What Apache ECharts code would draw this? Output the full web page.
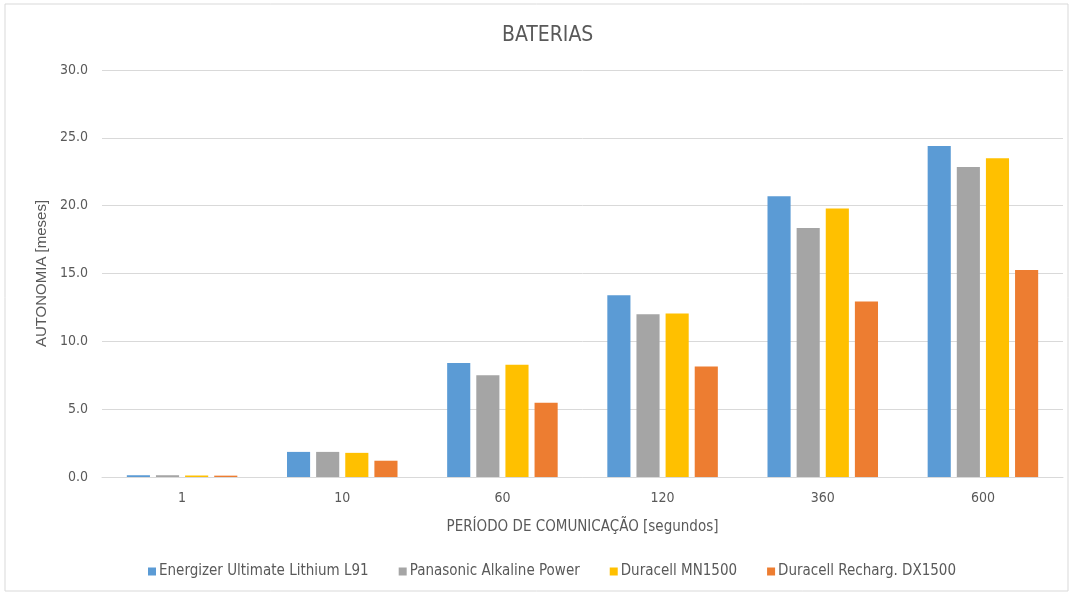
<!DOCTYPE html>
<html>
<head>
<meta charset="utf-8">
<script src="https://cdn.jsdelivr.net/npm/echarts@6/dist/echarts.min.js"></script>
<style>
  html, body { margin: 0; padding: 0; background: #fff; }
  #chart { width: 1072px; height: 594px; }
</style>
</head>
<body>
<div id="chart"></div>
<script>
// periods (seconds)
const categories = ['1', '10', '60', '120', '360', '600'];
const seriesNames = [
  'Energizer Ultimate Lithium L91',
  'Panasonic Alkaline Power',
  'Duracell MN1500',
  'Duracell Recharg. DX1500'
];
const energizer = [0.13, 1.85, 8.4, 13.4, 20.7, 24.4];
const panasonic = [0.13, 1.85, 7.5, 12.0, 18.35, 22.85];
const duracell = [0.11, 1.78, 8.27, 12.05, 19.8, 23.5];
const recharg = [0.1, 1.2, 5.48, 8.15, 12.93, 15.25];
const colors = ['#5B9BD5', '#A5A5A5', '#FFC000', '#ED7D31'];

const FONT = '"Liberation Sans Narrow", "DejaVu Sans Condensed", sans-serif';
const TXT = '#595959';

const chart = echarts.init(document.getElementById('chart'));
const values = [energizer, panasonic, duracell, recharg];

chart.setOption({
  animation: false,
  textStyle: { fontFamily: FONT },
  title: {
    text: 'BATERIAS',
    left: 497,
    top: 20,
    textStyle: { fontFamily: FONT, fontSize: 21, fontWeight: 'normal', color: TXT }
  },
  graphic: [{
    type: 'rect',
    shape: { x: 5, y: 4, width: 1063, height: 587 },
    style: { fill: 'none', stroke: '#D9D9D9', lineWidth: 1 },
    silent: true
  }],
  grid: { left: 102, right: 9, top: 70, bottom: 117 },
  legend: {
    bottom: 10,
    left: 143,
    itemWidth: 8,
    itemHeight: 8,
    itemGap: 30,
    icon: 'rect',
    textStyle: { fontFamily: FONT, fontSize: 15, color: TXT, padding: [0, 0, 0, -2] },
    data: seriesNames
  },
  xAxis: {
    type: 'category',
    data: categories,
    name: 'PERÍODO DE COMUNICAÇÃO [segundos]',
    nameLocation: 'middle',
    nameGap: 43,
    nameTextStyle: { fontFamily: FONT, fontSize: 15, color: TXT },
    axisLine: { lineStyle: { color: '#D9D9D9' } },
    axisTick: { show: false },
    axisLabel: { fontFamily: FONT, fontSize: 14, color: TXT, margin: 14 }
  },
  yAxis: {
    type: 'value',
    min: 0,
    max: 30,
    interval: 5,
    name: 'AUTONOMIA [meses]',
    nameLocation: 'middle',
    nameGap: 51,
    nameTextStyle: { fontFamily: '"Liberation Sans", sans-serif', fontSize: 15, color: TXT },
    axisLine: { show: false },
    axisTick: { show: false },
    axisLabel: { fontFamily: FONT, fontSize: 14, color: TXT, margin: 14, formatter: v => v.toFixed(1) },
    splitLine: { lineStyle: { color: '#D9D9D9' } }
  },
  series: seriesNames.map((name, i) => ({
    name,
    type: 'bar',
    data: values[i],
    barGap: '26%',
    barCategoryGap: '31%',
    itemStyle: { color: colors[i] }
  }))
});
</script>
</body>
</html>
